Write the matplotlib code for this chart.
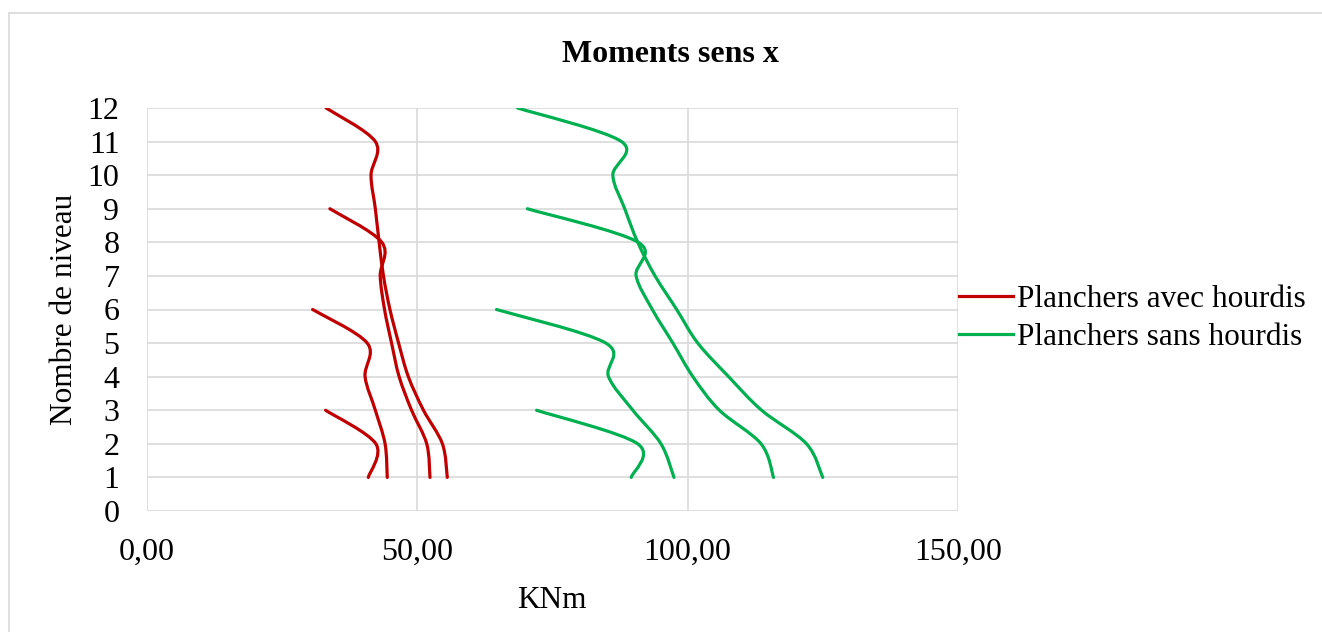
import numpy as np
import matplotlib
matplotlib.use("Agg")
import matplotlib.pyplot as plt
from matplotlib.path import Path
from matplotlib.patches import PathPatch
from matplotlib.lines import Line2D

# Data: moment (KNm) per level, from level 1 upwards
red_12 = [55.6, 54.7, 51.2, 48.4, 46.6, 45.0, 43.8, 43.0, 42.3, 41.5, 42.3, 33.2]
red_9 = [52.4, 51.8, 49.0, 46.7, 45.3, 44.0, 43.2, 43.5, 33.9]
red_6 = [44.5, 44.1, 42.3, 40.4, 40.8, 30.7]
red_3 = [41.0, 42.4, 33.1]

green_12 = [125.0, 122.0, 113.7, 107.6, 101.9, 98.0, 94.0, 90.8, 88.4, 86.2, 87.8, 68.6]
green_9 = [115.9, 113.6, 105.9, 101.0, 97.3, 93.5, 90.5, 90.9, 70.4]
green_6 = [97.5, 95.1, 89.9, 85.4, 84.9, 64.7]
green_3 = [89.6, 90.8, 72.1]

red_series = [red_12, red_9, red_6, red_3]
green_series = [green_12, green_9, green_6, green_3]

legend_labels = ["Planchers avec hourdis", "Planchers sans hourdis"]
x_ticks = [0, 50, 100, 150]
x_tick_labels = ["0,00", "50,00", "100,00", "150,00"]
y_ticks = list(range(0, 13))

RED = "#C00000"
GREEN = "#00B050"
FONT = "Liberation Serif"


# Smooth line like Excel (Bezier through the points)
def smooth_path(xs, ys, t=1/6):
    pts = np.column_stack([xs, ys]).astype(float)
    n = len(pts)
    verts = [pts[0]]
    codes = [Path.MOVETO]
    for i in range(n - 1):
        p0 = pts[i - 1] if i > 0 else pts[i]
        p1 = pts[i]
        p2 = pts[i + 1]
        p3 = pts[i + 2] if i + 2 < n else pts[i + 1]
        c1 = p1 + (p2 - p0) * t
        c2 = p2 - (p3 - p1) * t
        verts += [c1, c2, p2]
        codes += [Path.CURVE4] * 3
    return Path(verts, codes)


def draw_series(ax, values, color):
    levels = np.arange(1, len(values) + 1)
    patch = PathPatch(smooth_path(values, levels), facecolor="none",
                      edgecolor=color, lw=2.3, capstyle="round", zorder=3)
    ax.add_patch(patch)


fig = plt.figure(figsize=(13.22, 6.32), dpi=100)
ax = fig.add_axes([146.5/1322, 1 - 511/632, (958 - 146.5)/1322, (511 - 108)/632])

for s in red_series:
    draw_series(ax, s, RED)
for s in green_series:
    draw_series(ax, s, GREEN)

ax.set_xlim(0, 150)
ax.set_ylim(0, 12)
ax.set_xticks(x_ticks)
ax.set_xticklabels(x_tick_labels, fontfamily=FONT, fontsize=23)
ax.set_yticks(y_ticks)
ax.set_yticklabels([str(v) for v in y_ticks], fontfamily=FONT, fontsize=23)
ax.tick_params(axis="x", length=0, pad=19)
ax.tick_params(axis="y", length=0, pad=19.5)
ax.grid(True, color="#D9D9D9", lw=1.2, zorder=0)
ax.set_axisbelow(True)
for sp in ax.spines.values():
    sp.set_visible(False)

ax.set_xlabel("KNm", fontfamily=FONT, fontsize=22.5, labelpad=14)
ax.set_ylabel("Nombre de niveau", fontfamily=FONT, fontsize=22.5, labelpad=6)

fig.text(670/1322, 1 - 54/632, "Moments sens x", ha="center", va="center",
         fontfamily=FONT, fontsize=23, fontweight="bold")

handles = [Line2D([], [], color=RED, lw=2.3), Line2D([], [], color=GREEN, lw=2.3)]
fig.legend(handles, legend_labels, loc="center left", bbox_to_anchor=(959/1322, 1 - 318.5/632),
           frameon=False, prop={"family": FONT, "size": 22.5},
           handlelength=1.73, handletextpad=0.13, labelspacing=0.3, borderpad=0, borderaxespad=0)

# chart border (light gray)
fig.add_artist(Line2D([8.5/1322, 1], [1 - 12.5/632, 1 - 12.5/632], color="#D9D9D9", lw=1.2))
fig.add_artist(Line2D([8.5/1322, 8.5/1322], [0, 1 - 12.5/632], color="#D9D9D9", lw=1.2))

fig.savefig("out.png", dpi=100)
